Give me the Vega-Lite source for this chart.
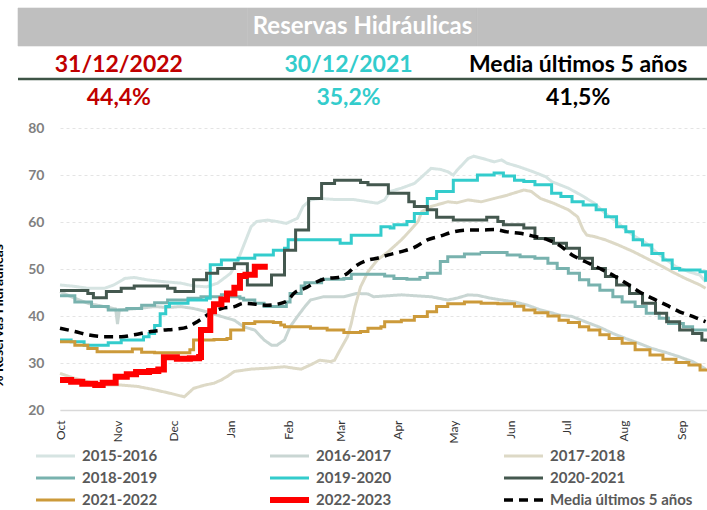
{
  "$schema": "https://vega.github.io/schema/vega-lite/v6.json",
  "width": 647,
  "height": 282,
  "autosize": "none",
  "padding": {"left": 60, "top": 128, "right": 0, "bottom": 100},
  "background": "white",
  "config": {"view": {"stroke": null}, "font": "Lato"},
  "datasets": {
    "header": [
      {"row": "title", "col": "c2", "label": "Reservas Hidráulicas"},
      {"row": "date", "col": "c1", "label": "31/12/2022"},
      {"row": "date", "col": "c2", "label": "30/12/2021"},
      {"row": "date", "col": "c3", "label": "Media últimos 5 años"},
      {"row": "value", "col": "c1", "label": "44,4%"},
      {"row": "value", "col": "c2", "label": "35,2%"},
      {"row": "value", "col": "c3", "label": "41,5%"}
    ],
    "series": [
      {"serie": "2015-2016", "fecha": "2022-10-01", "valor": 46.6},
      {"serie": "2015-2016", "fecha": "2022-10-09", "valor": 46.3},
      {"serie": "2015-2016", "fecha": "2022-10-16", "valor": 45.9},
      {"serie": "2015-2016", "fecha": "2022-10-25", "valor": 45.9},
      {"serie": "2015-2016", "fecha": "2022-10-30", "valor": 46.6},
      {"serie": "2015-2016", "fecha": "2022-11-05", "valor": 48.0},
      {"serie": "2015-2016", "fecha": "2022-11-10", "valor": 48.2},
      {"serie": "2015-2016", "fecha": "2022-11-17", "valor": 47.7},
      {"serie": "2015-2016", "fecha": "2022-11-26", "valor": 47.3},
      {"serie": "2015-2016", "fecha": "2022-12-05", "valor": 47.0},
      {"serie": "2015-2016", "fecha": "2022-12-12", "valor": 46.4},
      {"serie": "2015-2016", "fecha": "2022-12-19", "valor": 46.2},
      {"serie": "2015-2016", "fecha": "2022-12-25", "valor": 47.0},
      {"serie": "2015-2016", "fecha": "2023-01-01", "valor": 49.1},
      {"serie": "2015-2016", "fecha": "2023-01-05", "valor": 52.0},
      {"serie": "2015-2016", "fecha": "2023-01-09", "valor": 56.0},
      {"serie": "2015-2016", "fecha": "2023-01-12", "valor": 59.0},
      {"serie": "2015-2016", "fecha": "2023-01-15", "valor": 60.1},
      {"serie": "2015-2016", "fecha": "2023-01-21", "valor": 60.4},
      {"serie": "2015-2016", "fecha": "2023-01-26", "valor": 60.1},
      {"serie": "2015-2016", "fecha": "2023-01-31", "valor": 59.7},
      {"serie": "2015-2016", "fecha": "2023-02-06", "valor": 60.8},
      {"serie": "2015-2016", "fecha": "2023-02-09", "valor": 63.3},
      {"serie": "2015-2016", "fecha": "2023-02-13", "valor": 64.7},
      {"serie": "2015-2016", "fecha": "2023-02-18", "valor": 65.0},
      {"serie": "2015-2016", "fecha": "2023-02-26", "valor": 64.8},
      {"serie": "2015-2016", "fecha": "2023-03-08", "valor": 64.8},
      {"serie": "2015-2016", "fecha": "2023-03-16", "valor": 64.3},
      {"serie": "2015-2016", "fecha": "2023-03-21", "valor": 64.0},
      {"serie": "2015-2016", "fecha": "2023-03-25", "valor": 64.7},
      {"serie": "2015-2016", "fecha": "2023-03-28", "valor": 66.5},
      {"serie": "2015-2016", "fecha": "2023-04-03", "valor": 67.2},
      {"serie": "2015-2016", "fecha": "2023-04-10", "valor": 68.2},
      {"serie": "2015-2016", "fecha": "2023-04-14", "valor": 69.6},
      {"serie": "2015-2016", "fecha": "2023-04-19", "valor": 71.4},
      {"serie": "2015-2016", "fecha": "2023-04-24", "valor": 71.2},
      {"serie": "2015-2016", "fecha": "2023-04-28", "valor": 70.7},
      {"serie": "2015-2016", "fecha": "2023-05-01", "valor": 70.0},
      {"serie": "2015-2016", "fecha": "2023-05-03", "valor": 71.0},
      {"serie": "2015-2016", "fecha": "2023-05-09", "valor": 73.5},
      {"serie": "2015-2016", "fecha": "2023-05-12", "valor": 74.0},
      {"serie": "2015-2016", "fecha": "2023-05-17", "valor": 73.5},
      {"serie": "2015-2016", "fecha": "2023-05-23", "valor": 72.8},
      {"serie": "2015-2016", "fecha": "2023-05-27", "valor": 73.2},
      {"serie": "2015-2016", "fecha": "2023-05-30", "valor": 72.5},
      {"serie": "2015-2016", "fecha": "2023-06-05", "valor": 71.8},
      {"serie": "2015-2016", "fecha": "2023-06-13", "valor": 70.7},
      {"serie": "2015-2016", "fecha": "2023-06-20", "valor": 69.6},
      {"serie": "2015-2016", "fecha": "2023-06-23", "valor": 68.6},
      {"serie": "2015-2016", "fecha": "2023-07-02", "valor": 67.2},
      {"serie": "2015-2016", "fecha": "2023-07-09", "valor": 65.7},
      {"serie": "2015-2016", "fecha": "2023-07-16", "valor": 64.0},
      {"serie": "2015-2016", "fecha": "2023-07-22", "valor": 61.8},
      {"serie": "2015-2016", "fecha": "2023-07-28", "valor": 60.1},
      {"serie": "2015-2016", "fecha": "2023-08-02", "valor": 58.3},
      {"serie": "2015-2016", "fecha": "2023-08-07", "valor": 56.9},
      {"serie": "2015-2016", "fecha": "2023-08-13", "valor": 55.5},
      {"serie": "2015-2016", "fecha": "2023-08-18", "valor": 53.7},
      {"serie": "2015-2016", "fecha": "2023-08-24", "valor": 51.9},
      {"serie": "2015-2016", "fecha": "2023-08-29", "valor": 50.5},
      {"serie": "2015-2016", "fecha": "2023-09-05", "valor": 49.4},
      {"serie": "2015-2016", "fecha": "2023-09-11", "valor": 48.7},
      {"serie": "2015-2016", "fecha": "2023-09-14", "valor": 47.3},

      {"serie": "2016-2017", "fecha": "2022-10-01", "valor": 45.2},
      {"serie": "2016-2017", "fecha": "2022-10-07", "valor": 44.1},
      {"serie": "2016-2017", "fecha": "2022-10-16", "valor": 42.7},
      {"serie": "2016-2017", "fecha": "2022-10-25", "valor": 42.0},
      {"serie": "2016-2017", "fecha": "2022-10-31", "valor": 41.5},
      {"serie": "2016-2017", "fecha": "2022-11-01", "valor": 38.3},
      {"serie": "2016-2017", "fecha": "2022-11-02", "valor": 41.3},
      {"serie": "2016-2017", "fecha": "2022-11-12", "valor": 41.6},
      {"serie": "2016-2017", "fecha": "2022-11-21", "valor": 42.0},
      {"serie": "2016-2017", "fecha": "2022-11-28", "valor": 41.8},
      {"serie": "2016-2017", "fecha": "2022-12-05", "valor": 42.0},
      {"serie": "2016-2017", "fecha": "2022-12-12", "valor": 41.6},
      {"serie": "2016-2017", "fecha": "2022-12-19", "valor": 40.9},
      {"serie": "2016-2017", "fecha": "2022-12-27", "valor": 39.9},
      {"serie": "2016-2017", "fecha": "2023-01-03", "valor": 39.1},
      {"serie": "2016-2017", "fecha": "2023-01-08", "valor": 37.7},
      {"serie": "2016-2017", "fecha": "2023-01-14", "valor": 37.0},
      {"serie": "2016-2017", "fecha": "2023-01-19", "valor": 34.9},
      {"serie": "2016-2017", "fecha": "2023-01-23", "valor": 33.8},
      {"serie": "2016-2017", "fecha": "2023-01-26", "valor": 33.8},
      {"serie": "2016-2017", "fecha": "2023-01-30", "valor": 34.9},
      {"serie": "2016-2017", "fecha": "2023-02-02", "valor": 37.7},
      {"serie": "2016-2017", "fecha": "2023-02-06", "valor": 39.9},
      {"serie": "2016-2017", "fecha": "2023-02-10", "valor": 42.0},
      {"serie": "2016-2017", "fecha": "2023-02-13", "valor": 43.4},
      {"serie": "2016-2017", "fecha": "2023-02-20", "valor": 44.1},
      {"serie": "2016-2017", "fecha": "2023-03-03", "valor": 44.1},
      {"serie": "2016-2017", "fecha": "2023-03-10", "valor": 44.8},
      {"serie": "2016-2017", "fecha": "2023-03-16", "valor": 44.7},
      {"serie": "2016-2017", "fecha": "2023-03-19", "valor": 44.1},
      {"serie": "2016-2017", "fecha": "2023-04-03", "valor": 44.5},
      {"serie": "2016-2017", "fecha": "2023-04-19", "valor": 44.1},
      {"serie": "2016-2017", "fecha": "2023-04-28", "valor": 43.4},
      {"serie": "2016-2017", "fecha": "2023-05-03", "valor": 43.8},
      {"serie": "2016-2017", "fecha": "2023-05-09", "valor": 44.5},
      {"serie": "2016-2017", "fecha": "2023-05-14", "valor": 44.4},
      {"serie": "2016-2017", "fecha": "2023-05-21", "valor": 43.8},
      {"serie": "2016-2017", "fecha": "2023-05-27", "valor": 43.4},
      {"serie": "2016-2017", "fecha": "2023-06-03", "valor": 43.0},
      {"serie": "2016-2017", "fecha": "2023-06-10", "valor": 42.3},
      {"serie": "2016-2017", "fecha": "2023-06-17", "valor": 41.3},
      {"serie": "2016-2017", "fecha": "2023-06-23", "valor": 40.7},
      {"serie": "2016-2017", "fecha": "2023-06-27", "valor": 40.2},
      {"serie": "2016-2017", "fecha": "2023-07-04", "valor": 39.9},
      {"serie": "2016-2017", "fecha": "2023-07-11", "valor": 38.8},
      {"serie": "2016-2017", "fecha": "2023-07-19", "valor": 37.6},
      {"serie": "2016-2017", "fecha": "2023-07-26", "valor": 36.3},
      {"serie": "2016-2017", "fecha": "2023-08-02", "valor": 35.2},
      {"serie": "2016-2017", "fecha": "2023-08-09", "valor": 34.2},
      {"serie": "2016-2017", "fecha": "2023-08-16", "valor": 33.1},
      {"serie": "2016-2017", "fecha": "2023-08-24", "valor": 32.2},
      {"serie": "2016-2017", "fecha": "2023-08-31", "valor": 31.3},
      {"serie": "2016-2017", "fecha": "2023-09-07", "valor": 30.3},
      {"serie": "2016-2017", "fecha": "2023-09-12", "valor": 29.2},
      {"serie": "2016-2017", "fecha": "2023-09-14", "valor": 28.7},

      {"serie": "2017-2018", "fecha": "2022-10-01", "valor": 27.8},
      {"serie": "2017-2018", "fecha": "2022-10-09", "valor": 26.7},
      {"serie": "2017-2018", "fecha": "2022-10-16", "valor": 26.0},
      {"serie": "2017-2018", "fecha": "2022-10-25", "valor": 25.3},
      {"serie": "2017-2018", "fecha": "2022-11-03", "valor": 25.3},
      {"serie": "2017-2018", "fecha": "2022-11-12", "valor": 25.0},
      {"serie": "2017-2018", "fecha": "2022-11-21", "valor": 24.3},
      {"serie": "2017-2018", "fecha": "2022-11-30", "valor": 23.5},
      {"serie": "2017-2018", "fecha": "2022-12-07", "valor": 22.8},
      {"serie": "2017-2018", "fecha": "2022-12-12", "valor": 24.6},
      {"serie": "2017-2018", "fecha": "2022-12-18", "valor": 25.3},
      {"serie": "2017-2018", "fecha": "2022-12-23", "valor": 25.7},
      {"serie": "2017-2018", "fecha": "2022-12-27", "valor": 26.4},
      {"serie": "2017-2018", "fecha": "2022-12-30", "valor": 27.1},
      {"serie": "2017-2018", "fecha": "2023-01-03", "valor": 28.2},
      {"serie": "2017-2018", "fecha": "2023-01-12", "valor": 28.7},
      {"serie": "2017-2018", "fecha": "2023-01-21", "valor": 28.9},
      {"serie": "2017-2018", "fecha": "2023-01-30", "valor": 29.2},
      {"serie": "2017-2018", "fecha": "2023-02-04", "valor": 28.9},
      {"serie": "2017-2018", "fecha": "2023-02-08", "valor": 28.7},
      {"serie": "2017-2018", "fecha": "2023-02-13", "valor": 29.6},
      {"serie": "2017-2018", "fecha": "2023-02-18", "valor": 30.6},
      {"serie": "2017-2018", "fecha": "2023-02-24", "valor": 30.3},
      {"serie": "2017-2018", "fecha": "2023-02-26", "valor": 30.6},
      {"serie": "2017-2018", "fecha": "2023-03-01", "valor": 32.8},
      {"serie": "2017-2018", "fecha": "2023-03-05", "valor": 35.6},
      {"serie": "2017-2018", "fecha": "2023-03-07", "valor": 38.4},
      {"serie": "2017-2018", "fecha": "2023-03-09", "valor": 42.0},
      {"serie": "2017-2018", "fecha": "2023-03-12", "valor": 46.2},
      {"serie": "2017-2018", "fecha": "2023-03-16", "valor": 49.4},
      {"serie": "2017-2018", "fecha": "2023-03-21", "valor": 51.9},
      {"serie": "2017-2018", "fecha": "2023-03-27", "valor": 53.7},
      {"serie": "2017-2018", "fecha": "2023-04-03", "valor": 56.2},
      {"serie": "2017-2018", "fecha": "2023-04-08", "valor": 58.3},
      {"serie": "2017-2018", "fecha": "2023-04-12", "valor": 60.1},
      {"serie": "2017-2018", "fecha": "2023-04-14", "valor": 62.2},
      {"serie": "2017-2018", "fecha": "2023-04-19", "valor": 63.3},
      {"serie": "2017-2018", "fecha": "2023-04-28", "valor": 64.3},
      {"serie": "2017-2018", "fecha": "2023-05-03", "valor": 64.1},
      {"serie": "2017-2018", "fecha": "2023-05-09", "valor": 64.7},
      {"serie": "2017-2018", "fecha": "2023-05-16", "valor": 64.3},
      {"serie": "2017-2018", "fecha": "2023-05-23", "valor": 65.0},
      {"serie": "2017-2018", "fecha": "2023-05-30", "valor": 65.7},
      {"serie": "2017-2018", "fecha": "2023-06-03", "valor": 66.2},
      {"serie": "2017-2018", "fecha": "2023-06-08", "valor": 66.8},
      {"serie": "2017-2018", "fecha": "2023-06-12", "valor": 66.5},
      {"serie": "2017-2018", "fecha": "2023-06-17", "valor": 65.0},
      {"serie": "2017-2018", "fecha": "2023-06-24", "valor": 64.0},
      {"serie": "2017-2018", "fecha": "2023-07-02", "valor": 62.6},
      {"serie": "2017-2018", "fecha": "2023-07-07", "valor": 61.1},
      {"serie": "2017-2018", "fecha": "2023-07-10", "valor": 58.3},
      {"serie": "2017-2018", "fecha": "2023-07-12", "valor": 57.2},
      {"serie": "2017-2018", "fecha": "2023-07-16", "valor": 56.9},
      {"serie": "2017-2018", "fecha": "2023-07-22", "valor": 56.2},
      {"serie": "2017-2018", "fecha": "2023-07-29", "valor": 55.1},
      {"serie": "2017-2018", "fecha": "2023-08-06", "valor": 53.7},
      {"serie": "2017-2018", "fecha": "2023-08-13", "valor": 52.3},
      {"serie": "2017-2018", "fecha": "2023-08-20", "valor": 50.9},
      {"serie": "2017-2018", "fecha": "2023-08-27", "valor": 49.4},
      {"serie": "2017-2018", "fecha": "2023-09-03", "valor": 48.0},
      {"serie": "2017-2018", "fecha": "2023-09-11", "valor": 46.6},
      {"serie": "2017-2018", "fecha": "2023-09-14", "valor": 45.9},

      {"serie": "2018-2019", "fecha": "2022-10-01", "valor": 44.3},
      {"serie": "2018-2019", "fecha": "2022-10-09", "valor": 43.0},
      {"serie": "2018-2019", "fecha": "2022-10-18", "valor": 42.0},
      {"serie": "2018-2019", "fecha": "2022-10-27", "valor": 41.3},
      {"serie": "2018-2019", "fecha": "2022-11-06", "valor": 41.6},
      {"serie": "2018-2019", "fecha": "2022-11-14", "valor": 42.3},
      {"serie": "2018-2019", "fecha": "2022-11-21", "valor": 42.8},
      {"serie": "2018-2019", "fecha": "2022-11-28", "valor": 43.4},
      {"serie": "2018-2019", "fecha": "2022-12-09", "valor": 43.8},
      {"serie": "2018-2019", "fecha": "2022-12-16", "valor": 44.1},
      {"serie": "2018-2019", "fecha": "2022-12-27", "valor": 44.5},
      {"serie": "2018-2019", "fecha": "2022-12-30", "valor": 44.1},
      {"serie": "2018-2019", "fecha": "2023-01-06", "valor": 43.8},
      {"serie": "2018-2019", "fecha": "2023-01-08", "valor": 43.4},
      {"serie": "2018-2019", "fecha": "2023-01-14", "valor": 42.7},
      {"serie": "2018-2019", "fecha": "2023-01-19", "valor": 42.0},
      {"serie": "2018-2019", "fecha": "2023-01-31", "valor": 43.0},
      {"serie": "2018-2019", "fecha": "2023-02-02", "valor": 44.8},
      {"serie": "2018-2019", "fecha": "2023-02-08", "valor": 46.4},
      {"serie": "2018-2019", "fecha": "2023-02-10", "valor": 47.1},
      {"serie": "2018-2019", "fecha": "2023-02-19", "valor": 47.8},
      {"serie": "2018-2019", "fecha": "2023-03-03", "valor": 48.0},
      {"serie": "2018-2019", "fecha": "2023-03-07", "valor": 48.9},
      {"serie": "2018-2019", "fecha": "2023-03-25", "valor": 48.5},
      {"serie": "2018-2019", "fecha": "2023-03-30", "valor": 48.0},
      {"serie": "2018-2019", "fecha": "2023-04-06", "valor": 47.8},
      {"serie": "2018-2019", "fecha": "2023-04-13", "valor": 48.2},
      {"serie": "2018-2019", "fecha": "2023-04-17", "valor": 49.1},
      {"serie": "2018-2019", "fecha": "2023-04-24", "valor": 51.6},
      {"serie": "2018-2019", "fecha": "2023-04-28", "valor": 52.6},
      {"serie": "2018-2019", "fecha": "2023-05-07", "valor": 53.2},
      {"serie": "2018-2019", "fecha": "2023-05-16", "valor": 53.5},
      {"serie": "2018-2019", "fecha": "2023-05-30", "valor": 53.0},
      {"serie": "2018-2019", "fecha": "2023-06-06", "valor": 52.6},
      {"serie": "2018-2019", "fecha": "2023-06-14", "valor": 52.3},
      {"serie": "2018-2019", "fecha": "2023-06-21", "valor": 51.2},
      {"serie": "2018-2019", "fecha": "2023-06-26", "valor": 50.1},
      {"serie": "2018-2019", "fecha": "2023-07-02", "valor": 49.1},
      {"serie": "2018-2019", "fecha": "2023-07-08", "valor": 47.7},
      {"serie": "2018-2019", "fecha": "2023-07-13", "valor": 46.6},
      {"serie": "2018-2019", "fecha": "2023-07-19", "valor": 45.5},
      {"serie": "2018-2019", "fecha": "2023-07-26", "valor": 44.1},
      {"serie": "2018-2019", "fecha": "2023-07-31", "valor": 43.0},
      {"serie": "2018-2019", "fecha": "2023-08-07", "valor": 42.0},
      {"serie": "2018-2019", "fecha": "2023-08-13", "valor": 40.6},
      {"serie": "2018-2019", "fecha": "2023-08-20", "valor": 39.5},
      {"serie": "2018-2019", "fecha": "2023-08-25", "valor": 38.4},
      {"serie": "2018-2019", "fecha": "2023-09-02", "valor": 37.7},
      {"serie": "2018-2019", "fecha": "2023-09-07", "valor": 37.0},
      {"serie": "2018-2019", "fecha": "2023-09-14", "valor": 36.7},

      {"serie": "2019-2020", "fecha": "2022-10-01", "valor": 34.9},
      {"serie": "2019-2020", "fecha": "2022-10-07", "valor": 34.5},
      {"serie": "2019-2020", "fecha": "2022-10-14", "valor": 33.8},
      {"serie": "2019-2020", "fecha": "2022-10-27", "valor": 34.3},
      {"serie": "2019-2020", "fecha": "2022-11-03", "valor": 34.9},
      {"serie": "2019-2020", "fecha": "2022-11-15", "valor": 35.6},
      {"serie": "2019-2020", "fecha": "2022-11-18", "valor": 36.3},
      {"serie": "2019-2020", "fecha": "2022-11-21", "valor": 38.0},
      {"serie": "2019-2020", "fecha": "2022-11-24", "valor": 40.5},
      {"serie": "2019-2020", "fecha": "2022-11-27", "valor": 42.0},
      {"serie": "2019-2020", "fecha": "2022-11-29", "valor": 42.7},
      {"serie": "2019-2020", "fecha": "2022-12-09", "valor": 43.4},
      {"serie": "2019-2020", "fecha": "2022-12-19", "valor": 43.8},
      {"serie": "2019-2020", "fecha": "2022-12-21", "valor": 50.9},
      {"serie": "2019-2020", "fecha": "2022-12-27", "valor": 51.9},
      {"serie": "2019-2020", "fecha": "2023-01-05", "valor": 52.3},
      {"serie": "2019-2020", "fecha": "2023-01-14", "valor": 53.0},
      {"serie": "2019-2020", "fecha": "2023-01-24", "valor": 54.0},
      {"serie": "2019-2020", "fecha": "2023-01-30", "valor": 54.4},
      {"serie": "2019-2020", "fecha": "2023-02-01", "valor": 56.2},
      {"serie": "2019-2020", "fecha": "2023-03-01", "valor": 55.5},
      {"serie": "2019-2020", "fecha": "2023-03-07", "valor": 57.2},
      {"serie": "2019-2020", "fecha": "2023-03-23", "valor": 59.0},
      {"serie": "2019-2020", "fecha": "2023-03-28", "valor": 58.7},
      {"serie": "2019-2020", "fecha": "2023-03-30", "valor": 59.4},
      {"serie": "2019-2020", "fecha": "2023-04-06", "valor": 60.1},
      {"serie": "2019-2020", "fecha": "2023-04-10", "valor": 61.8},
      {"serie": "2019-2020", "fecha": "2023-04-17", "valor": 65.0},
      {"serie": "2019-2020", "fecha": "2023-04-22", "valor": 66.5},
      {"serie": "2019-2020", "fecha": "2023-05-01", "valor": 68.9},
      {"serie": "2019-2020", "fecha": "2023-05-14", "valor": 70.0},
      {"serie": "2019-2020", "fecha": "2023-05-23", "valor": 70.4},
      {"serie": "2019-2020", "fecha": "2023-05-28", "valor": 69.8},
      {"serie": "2019-2020", "fecha": "2023-06-03", "valor": 68.9},
      {"serie": "2019-2020", "fecha": "2023-06-08", "valor": 68.6},
      {"serie": "2019-2020", "fecha": "2023-06-14", "valor": 67.9},
      {"serie": "2019-2020", "fecha": "2023-06-23", "valor": 66.1},
      {"serie": "2019-2020", "fecha": "2023-06-28", "valor": 65.4},
      {"serie": "2019-2020", "fecha": "2023-07-04", "valor": 64.3},
      {"serie": "2019-2020", "fecha": "2023-07-10", "valor": 63.6},
      {"serie": "2019-2020", "fecha": "2023-07-17", "valor": 62.6},
      {"serie": "2019-2020", "fecha": "2023-07-22", "valor": 61.1},
      {"serie": "2019-2020", "fecha": "2023-07-28", "valor": 59.0},
      {"serie": "2019-2020", "fecha": "2023-08-02", "valor": 57.9},
      {"serie": "2019-2020", "fecha": "2023-08-06", "valor": 56.2},
      {"serie": "2019-2020", "fecha": "2023-08-11", "valor": 55.1},
      {"serie": "2019-2020", "fecha": "2023-08-16", "valor": 53.3},
      {"serie": "2019-2020", "fecha": "2023-08-22", "valor": 51.9},
      {"serie": "2019-2020", "fecha": "2023-08-27", "valor": 50.1},
      {"serie": "2019-2020", "fecha": "2023-08-31", "valor": 49.8},
      {"serie": "2019-2020", "fecha": "2023-09-11", "valor": 49.4},
      {"serie": "2019-2020", "fecha": "2023-09-14", "valor": 47.3},

      {"serie": "2020-2021", "fecha": "2022-10-01", "valor": 45.4},
      {"serie": "2020-2021", "fecha": "2022-10-16", "valor": 44.8},
      {"serie": "2020-2021", "fecha": "2022-10-19", "valor": 43.9},
      {"serie": "2020-2021", "fecha": "2022-10-26", "valor": 45.2},
      {"serie": "2020-2021", "fecha": "2022-11-03", "valor": 45.9},
      {"serie": "2020-2021", "fecha": "2022-11-10", "valor": 46.4},
      {"serie": "2020-2021", "fecha": "2022-11-28", "valor": 45.9},
      {"serie": "2020-2021", "fecha": "2022-12-02", "valor": 45.2},
      {"serie": "2020-2021", "fecha": "2022-12-12", "valor": 47.7},
      {"serie": "2020-2021", "fecha": "2022-12-19", "valor": 49.1},
      {"serie": "2020-2021", "fecha": "2022-12-25", "valor": 50.1},
      {"serie": "2020-2021", "fecha": "2023-01-03", "valor": 51.1},
      {"serie": "2020-2021", "fecha": "2023-01-10", "valor": 46.6},
      {"serie": "2020-2021", "fecha": "2023-01-23", "valor": 48.7},
      {"serie": "2020-2021", "fecha": "2023-01-30", "valor": 54.0},
      {"serie": "2020-2021", "fecha": "2023-02-05", "valor": 58.3},
      {"serie": "2020-2021", "fecha": "2023-02-12", "valor": 65.0},
      {"serie": "2020-2021", "fecha": "2023-02-19", "valor": 68.2},
      {"serie": "2020-2021", "fecha": "2023-02-26", "valor": 68.9},
      {"serie": "2020-2021", "fecha": "2023-03-12", "valor": 68.4},
      {"serie": "2020-2021", "fecha": "2023-03-16", "valor": 67.9},
      {"serie": "2020-2021", "fecha": "2023-03-27", "valor": 66.1},
      {"serie": "2020-2021", "fecha": "2023-04-07", "valor": 64.3},
      {"serie": "2020-2021", "fecha": "2023-04-10", "valor": 63.3},
      {"serie": "2020-2021", "fecha": "2023-04-17", "valor": 62.6},
      {"serie": "2020-2021", "fecha": "2023-04-22", "valor": 61.0},
      {"serie": "2020-2021", "fecha": "2023-05-01", "valor": 60.4},
      {"serie": "2020-2021", "fecha": "2023-05-19", "valor": 61.0},
      {"serie": "2020-2021", "fecha": "2023-05-25", "valor": 60.1},
      {"serie": "2020-2021", "fecha": "2023-05-28", "valor": 59.4},
      {"serie": "2020-2021", "fecha": "2023-06-08", "valor": 58.7},
      {"serie": "2020-2021", "fecha": "2023-06-14", "valor": 56.5},
      {"serie": "2020-2021", "fecha": "2023-06-24", "valor": 55.5},
      {"serie": "2020-2021", "fecha": "2023-07-01", "valor": 54.4},
      {"serie": "2020-2021", "fecha": "2023-07-08", "valor": 52.3},
      {"serie": "2020-2021", "fecha": "2023-07-15", "valor": 50.1},
      {"serie": "2020-2021", "fecha": "2023-07-22", "valor": 48.4},
      {"serie": "2020-2021", "fecha": "2023-07-28", "valor": 46.6},
      {"serie": "2020-2021", "fecha": "2023-08-04", "valor": 44.8},
      {"serie": "2020-2021", "fecha": "2023-08-11", "valor": 42.7},
      {"serie": "2020-2021", "fecha": "2023-08-18", "valor": 40.6},
      {"serie": "2020-2021", "fecha": "2023-08-24", "valor": 38.8},
      {"serie": "2020-2021", "fecha": "2023-08-31", "valor": 37.0},
      {"serie": "2020-2021", "fecha": "2023-09-07", "valor": 36.3},
      {"serie": "2020-2021", "fecha": "2023-09-12", "valor": 34.9},
      {"serie": "2020-2021", "fecha": "2023-09-14", "valor": 34.5},

      {"serie": "2021-2022", "fecha": "2022-10-01", "valor": 34.5},
      {"serie": "2021-2022", "fecha": "2022-10-09", "valor": 33.8},
      {"serie": "2021-2022", "fecha": "2022-10-16", "valor": 33.1},
      {"serie": "2021-2022", "fecha": "2022-10-21", "valor": 32.4},
      {"serie": "2021-2022", "fecha": "2022-11-09", "valor": 33.0},
      {"serie": "2021-2022", "fecha": "2022-11-14", "valor": 32.3},
      {"serie": "2021-2022", "fecha": "2022-11-21", "valor": 32.2},
      {"serie": "2021-2022", "fecha": "2022-12-10", "valor": 32.8},
      {"serie": "2021-2022", "fecha": "2022-12-12", "valor": 34.9},
      {"serie": "2021-2022", "fecha": "2022-12-23", "valor": 35.0},
      {"serie": "2021-2022", "fecha": "2022-12-30", "valor": 35.2},
      {"serie": "2021-2022", "fecha": "2023-01-01", "valor": 37.0},
      {"serie": "2021-2022", "fecha": "2023-01-08", "valor": 38.4},
      {"serie": "2021-2022", "fecha": "2023-01-14", "valor": 38.8},
      {"serie": "2021-2022", "fecha": "2023-01-24", "valor": 38.6},
      {"serie": "2021-2022", "fecha": "2023-01-28", "valor": 38.1},
      {"serie": "2021-2022", "fecha": "2023-01-30", "valor": 37.7},
      {"serie": "2021-2022", "fecha": "2023-02-13", "valor": 37.4},
      {"serie": "2021-2022", "fecha": "2023-02-22", "valor": 37.0},
      {"serie": "2021-2022", "fecha": "2023-03-03", "valor": 36.5},
      {"serie": "2021-2022", "fecha": "2023-03-12", "valor": 36.7},
      {"serie": "2021-2022", "fecha": "2023-03-16", "valor": 37.4},
      {"serie": "2021-2022", "fecha": "2023-03-23", "valor": 37.7},
      {"serie": "2021-2022", "fecha": "2023-03-25", "valor": 38.8},
      {"serie": "2021-2022", "fecha": "2023-04-03", "valor": 39.1},
      {"serie": "2021-2022", "fecha": "2023-04-10", "valor": 39.9},
      {"serie": "2021-2022", "fecha": "2023-04-17", "valor": 40.9},
      {"serie": "2021-2022", "fecha": "2023-04-22", "valor": 42.0},
      {"serie": "2021-2022", "fecha": "2023-04-28", "valor": 42.6},
      {"serie": "2021-2022", "fecha": "2023-05-07", "valor": 43.0},
      {"serie": "2021-2022", "fecha": "2023-05-16", "valor": 42.7},
      {"serie": "2021-2022", "fecha": "2023-05-25", "valor": 42.6},
      {"serie": "2021-2022", "fecha": "2023-06-03", "valor": 42.1},
      {"serie": "2021-2022", "fecha": "2023-06-08", "valor": 41.3},
      {"serie": "2021-2022", "fecha": "2023-06-14", "valor": 40.7},
      {"serie": "2021-2022", "fecha": "2023-06-21", "valor": 40.0},
      {"serie": "2021-2022", "fecha": "2023-06-27", "valor": 39.1},
      {"serie": "2021-2022", "fecha": "2023-07-02", "valor": 38.6},
      {"serie": "2021-2022", "fecha": "2023-07-08", "valor": 37.7},
      {"serie": "2021-2022", "fecha": "2023-07-13", "valor": 37.0},
      {"serie": "2021-2022", "fecha": "2023-07-19", "valor": 36.0},
      {"serie": "2021-2022", "fecha": "2023-07-24", "valor": 35.2},
      {"serie": "2021-2022", "fecha": "2023-07-31", "valor": 34.2},
      {"serie": "2021-2022", "fecha": "2023-08-07", "valor": 32.8},
      {"serie": "2021-2022", "fecha": "2023-08-15", "valor": 31.7},
      {"serie": "2021-2022", "fecha": "2023-08-22", "valor": 30.8},
      {"serie": "2021-2022", "fecha": "2023-08-29", "valor": 30.1},
      {"serie": "2021-2022", "fecha": "2023-09-05", "valor": 29.6},
      {"serie": "2021-2022", "fecha": "2023-09-11", "valor": 28.5},
      {"serie": "2021-2022", "fecha": "2023-09-14", "valor": 28.2},

      {"serie": "2022-2023", "fecha": "2022-10-01", "valor": 26.4},
      {"serie": "2022-2023", "fecha": "2022-10-07", "valor": 26.0},
      {"serie": "2022-2023", "fecha": "2022-10-13", "valor": 25.6},
      {"serie": "2022-2023", "fecha": "2022-10-20", "valor": 25.3},
      {"serie": "2022-2023", "fecha": "2022-10-24", "valor": 25.8},
      {"serie": "2022-2023", "fecha": "2022-10-31", "valor": 27.1},
      {"serie": "2022-2023", "fecha": "2022-11-06", "valor": 27.6},
      {"serie": "2022-2023", "fecha": "2022-11-11", "valor": 28.1},
      {"serie": "2022-2023", "fecha": "2022-11-18", "valor": 28.3},
      {"serie": "2022-2023", "fecha": "2022-11-23", "valor": 28.6},
      {"serie": "2022-2023", "fecha": "2022-11-26", "valor": 31.2},
      {"serie": "2022-2023", "fecha": "2022-12-03", "valor": 30.9},
      {"serie": "2022-2023", "fecha": "2022-12-10", "valor": 31.0},
      {"serie": "2022-2023", "fecha": "2022-12-15", "valor": 31.3},
      {"serie": "2022-2023", "fecha": "2022-12-16", "valor": 37.0},
      {"serie": "2022-2023", "fecha": "2022-12-21", "valor": 41.0},
      {"serie": "2022-2023", "fecha": "2022-12-23", "valor": 42.5},
      {"serie": "2022-2023", "fecha": "2022-12-27", "valor": 43.5},
      {"serie": "2022-2023", "fecha": "2022-12-30", "valor": 44.8},
      {"serie": "2022-2023", "fecha": "2023-01-03", "valor": 46.0},
      {"serie": "2022-2023", "fecha": "2023-01-06", "valor": 48.5},
      {"serie": "2022-2023", "fecha": "2023-01-09", "valor": 48.8},
      {"serie": "2022-2023", "fecha": "2023-01-14", "valor": 50.5},
      {"serie": "2022-2023", "fecha": "2023-01-21", "valor": 50.5},

      {"serie": "Media últimos 5 años", "fecha": "2022-10-01", "valor": 37.4},
      {"serie": "Media últimos 5 años", "fecha": "2022-10-09", "valor": 36.7},
      {"serie": "Media últimos 5 años", "fecha": "2022-10-16", "valor": 36.0},
      {"serie": "Media últimos 5 años", "fecha": "2022-10-25", "valor": 35.6},
      {"serie": "Media últimos 5 años", "fecha": "2022-11-03", "valor": 35.6},
      {"serie": "Media últimos 5 años", "fecha": "2022-11-10", "valor": 36.0},
      {"serie": "Media últimos 5 años", "fecha": "2022-11-19", "valor": 36.7},
      {"serie": "Media últimos 5 años", "fecha": "2022-11-26", "valor": 37.0},
      {"serie": "Media últimos 5 años", "fecha": "2022-12-02", "valor": 37.2},
      {"serie": "Media últimos 5 años", "fecha": "2022-12-09", "valor": 37.7},
      {"serie": "Media últimos 5 años", "fecha": "2022-12-14", "valor": 38.8},
      {"serie": "Media últimos 5 años", "fecha": "2022-12-21", "valor": 40.6},
      {"serie": "Media últimos 5 años", "fecha": "2022-12-27", "valor": 41.6},
      {"serie": "Media últimos 5 años", "fecha": "2023-01-03", "valor": 42.0},
      {"serie": "Media últimos 5 años", "fecha": "2023-01-08", "valor": 42.7},
      {"serie": "Media últimos 5 años", "fecha": "2023-01-21", "valor": 42.3},
      {"serie": "Media últimos 5 años", "fecha": "2023-01-26", "valor": 42.5},
      {"serie": "Media últimos 5 años", "fecha": "2023-02-01", "valor": 43.4},
      {"serie": "Media últimos 5 años", "fecha": "2023-02-04", "valor": 44.8},
      {"serie": "Media últimos 5 años", "fecha": "2023-02-10", "valor": 45.9},
      {"serie": "Media últimos 5 años", "fecha": "2023-02-15", "valor": 47.0},
      {"serie": "Media últimos 5 años", "fecha": "2023-02-22", "valor": 48.0},
      {"serie": "Media últimos 5 años", "fecha": "2023-02-28", "valor": 48.2},
      {"serie": "Media últimos 5 años", "fecha": "2023-03-05", "valor": 49.1},
      {"serie": "Media últimos 5 años", "fecha": "2023-03-09", "valor": 50.5},
      {"serie": "Media últimos 5 años", "fecha": "2023-03-16", "valor": 51.9},
      {"serie": "Media últimos 5 años", "fecha": "2023-03-21", "valor": 52.3},
      {"serie": "Media últimos 5 años", "fecha": "2023-03-27", "valor": 53.0},
      {"serie": "Media últimos 5 años", "fecha": "2023-04-03", "valor": 53.7},
      {"serie": "Media últimos 5 años", "fecha": "2023-04-10", "valor": 54.6},
      {"serie": "Media últimos 5 años", "fecha": "2023-04-17", "valor": 56.2},
      {"serie": "Media últimos 5 años", "fecha": "2023-04-24", "valor": 57.0},
      {"serie": "Media últimos 5 años", "fecha": "2023-05-01", "valor": 57.9},
      {"serie": "Media últimos 5 años", "fecha": "2023-05-09", "valor": 58.3},
      {"serie": "Media últimos 5 años", "fecha": "2023-05-16", "valor": 58.3},
      {"serie": "Media últimos 5 años", "fecha": "2023-05-23", "valor": 58.4},
      {"serie": "Media últimos 5 años", "fecha": "2023-05-30", "valor": 57.9},
      {"serie": "Media últimos 5 años", "fecha": "2023-06-06", "valor": 57.6},
      {"serie": "Media últimos 5 años", "fecha": "2023-06-14", "valor": 56.9},
      {"serie": "Media últimos 5 años", "fecha": "2023-06-21", "valor": 56.2},
      {"serie": "Media últimos 5 años", "fecha": "2023-06-27", "valor": 55.1},
      {"serie": "Media últimos 5 años", "fecha": "2023-07-04", "valor": 53.0},
      {"serie": "Media últimos 5 años", "fecha": "2023-07-11", "valor": 51.6},
      {"serie": "Media últimos 5 años", "fecha": "2023-07-19", "valor": 50.1},
      {"serie": "Media últimos 5 años", "fecha": "2023-07-26", "valor": 48.7},
      {"serie": "Media últimos 5 años", "fecha": "2023-08-02", "valor": 47.0},
      {"serie": "Media últimos 5 años", "fecha": "2023-08-09", "valor": 45.2},
      {"serie": "Media últimos 5 años", "fecha": "2023-08-16", "valor": 43.8},
      {"serie": "Media últimos 5 años", "fecha": "2023-08-24", "valor": 42.3},
      {"serie": "Media últimos 5 años", "fecha": "2023-08-31", "valor": 40.9},
      {"serie": "Media últimos 5 años", "fecha": "2023-09-07", "valor": 39.9},
      {"serie": "Media últimos 5 años", "fecha": "2023-09-14", "valor": 38.8}
    ]
  },
  "layer": [
    {
      "data": {"name": "header"},
      "encoding": {
        "x": {"field": "col", "type": "nominal", "axis": null,
              "scale": {"type": "band", "domain": ["c1", "c2", "c3"], "range": [-42, 647], "paddingInner": 0, "paddingOuter": 0}},
        "y": {"field": "row", "type": "nominal", "axis": null,
              "scale": {"type": "band", "domain": ["title", "date", "value"], "range": [-120, -6], "paddingInner": 0, "paddingOuter": 0}}
      },
      "layer": [
        {
          "transform": [{"filter": "datum.row === 'date'"}],
          "mark": {"type": "rect", "color": "#BFBFBF", "stroke": "#BFBFBF", "strokeWidth": 0.6},
          "encoding": {"y": {"datum": "title", "type": "nominal"}}
        },
        {
          "transform": [{"filter": "datum.row === 'title'"}],
          "mark": {"type": "rule", "color": "#3E5446", "strokeWidth": 2.5, "yOffset": -5},
          "encoding": {
            "x": {"datum": "c1", "type": "nominal", "bandPosition": 0},
            "x2": {"datum": "c3", "bandPosition": 1},
            "y": {"datum": "value", "type": "nominal", "bandPosition": 0}
          }
        },
        {
          "transform": [{"filter": "datum.row === 'title'"}],
          "mark": {"type": "text", "color": "white", "fontSize": 24, "fontWeight": "bold", "font": "Lato", "align": "center", "baseline": "middle"},
          "encoding": {"text": {"field": "label"}}
        },
        {
          "transform": [{"filter": "datum.row === 'date'"}],
          "mark": {"type": "text", "fontSize": 23, "fontWeight": "bold", "font": "Lato", "align": "center", "baseline": "middle", "dx": -14},
          "encoding": {
            "text": {"field": "label"},
            "fill": {"field": "col", "type": "nominal", "legend": null,
                     "scale": {"domain": ["c1", "c2", "c3"], "range": ["#C00000", "#33CCCC", "#000000"]}}
          }
        },
        {
          "transform": [{"filter": "datum.row === 'value'"}],
          "mark": {"type": "text", "fontSize": 23, "fontWeight": "bold", "font": "Lato", "align": "center", "baseline": "middle", "dx": -14, "dy": -5},
          "encoding": {
            "text": {"field": "label"},
            "fill": {"field": "col", "type": "nominal", "legend": null,
                     "scale": {"domain": ["c1", "c2", "c3"], "range": ["#C00000", "#33CCCC", "#000000"]}}
          }
        }
      ]
    },
    {
      "data": {"name": "series"},
      "encoding": {
        "x": {
          "field": "fecha", "type": "temporal",
          "scale": {"type": "utc", "domain": [{"year": 2022, "month": 10, "date": 1, "utc": true}, {"year": 2023, "month": 9, "date": 14, "hours": 18, "utc": true}]},
          "axis": {
            "title": null, "labelExpr": "utcFormat(datum.value, '%b')",
            "values": [
              {"year": 2022, "month": 10, "date": 1, "utc": true},
              {"year": 2022, "month": 11, "date": 1, "utc": true},
              {"year": 2022, "month": 12, "date": 1, "utc": true},
              {"year": 2023, "month": 1, "date": 1, "utc": true},
              {"year": 2023, "month": 2, "date": 1, "utc": true},
              {"year": 2023, "month": 3, "date": 1, "utc": true},
              {"year": 2023, "month": 4, "date": 1, "utc": true},
              {"year": 2023, "month": 5, "date": 1, "utc": true},
              {"year": 2023, "month": 6, "date": 1, "utc": true},
              {"year": 2023, "month": 7, "date": 1, "utc": true},
              {"year": 2023, "month": 8, "date": 1, "utc": true},
              {"year": 2023, "month": 9, "date": 1, "utc": true}
            ],
            "labelAngle": -90, "labelAlign": "right", "labelBaseline": "middle",
            "labelFont": "Lato", "labelFontSize": 12, "labelColor": "#333333", "labelPadding": 10,
            "labelOverlap": false, "labelFlush": false,
            "ticks": false, "grid": false, "domain": true, "domainColor": "#D9D9D9", "domainWidth": 1.5
          }
        },
        "y": {
          "field": "valor", "type": "quantitative",
          "scale": {"domain": [20, 80], "nice": false, "zero": false},
          "axis": {
            "title": "% Reservas Hidráulicas", "values": [20, 30, 40, 50, 60, 70, 80],
            "labelFont": "Lato", "labelFontSize": 14, "labelFontWeight": "bold", "labelColor": "#808080", "labelPadding": 16,
            "domain": false, "ticks": false, "grid": true, "gridColor": "#E4E4E4", "gridDash": [3, 3], "gridWidth": 1,
            "titleFont": "Lato", "titleFontSize": 14, "titleFontWeight": "bold", "titleColor": "#000000",
            "titleAngle": -90, "titleX": -55, "titleY": 187, "titleAlign": "center", "titleBaseline": "bottom"
          }
        },
        "color": {
          "field": "serie", "type": "nominal",
          "scale": {
            "domain": ["2015-2016", "2016-2017", "2017-2018", "2018-2019", "2019-2020", "2020-2021", "2021-2022", "2022-2023", "Media últimos 5 años"],
            "range": ["#D6E4E2", "#C9D6D3", "#DDD9C6", "#78B2AE", "#33CCCC", "#44584F", "#CC9A3A", "#FF0000", "#000000"]
          },
          "legend": {
            "title": null, "orient": "none", "legendX": -27, "legendY": 320, "columns": 3, "direction": "horizontal",
            "symbolType": "stroke", "symbolSize": 1521, "labelFont": "Lato", "labelFontSize": 15,
            "labelFontWeight": "bold", "labelColor": "#595959", "labelOffset": 4, "columnPadding": 109,
            "rowPadding": 6, "clipHeight": 16, "padding": 0, "labelLimit": 0
          }
        },
        "strokeWidth": {
          "field": "serie", "type": "nominal",
          "scale": {
            "type": "ordinal",
            "domain": ["2015-2016", "2016-2017", "2017-2018", "2018-2019", "2019-2020", "2020-2021", "2021-2022", "2022-2023", "Media últimos 5 años"],
            "range": [3, 3, 3, 3, 3, 3, 3, 6, 3.5]
          },
          "legend": {
            "title": null, "orient": "none", "legendX": -27, "legendY": 320, "columns": 3, "direction": "horizontal",
            "symbolType": "stroke", "symbolSize": 1521, "labelFont": "Lato", "labelFontSize": 15,
            "labelFontWeight": "bold", "labelColor": "#595959", "labelOffset": 4, "columnPadding": 109,
            "rowPadding": 6, "clipHeight": 16, "padding": 0, "labelLimit": 0
          }
        },
        "strokeDash": {
          "field": "serie", "type": "nominal",
          "scale": {
            "domain": ["2015-2016", "2016-2017", "2017-2018", "2018-2019", "2019-2020", "2020-2021", "2021-2022", "2022-2023", "Media últimos 5 años"],
            "range": [[1, 0], [1, 0], [1, 0], [1, 0], [1, 0], [1, 0], [1, 0], [1, 0], [9, 6]]
          },
          "legend": {
            "title": null, "orient": "none", "legendX": -27, "legendY": 320, "columns": 3, "direction": "horizontal",
            "symbolType": "stroke", "symbolSize": 1521, "labelFont": "Lato", "labelFontSize": 15,
            "labelFontWeight": "bold", "labelColor": "#595959", "labelOffset": 4, "columnPadding": 109,
            "rowPadding": 6, "clipHeight": 16, "padding": 0, "labelLimit": 0
          }
        }
      },
      "layer": [
        {
          "transform": [{"filter": {"field": "serie", "oneOf": ["2015-2016", "2016-2017", "2017-2018"]}}],
          "mark": {"type": "line", "interpolate": "linear"}
        },
        {
          "transform": [{"filter": {"field": "serie", "oneOf": ["2018-2019", "2019-2020", "2020-2021", "2021-2022"]}}],
          "mark": {"type": "line", "interpolate": "step-after"}
        },
        {
          "transform": [{"filter": {"field": "serie", "equal": "Media últimos 5 años"}}],
          "mark": {"type": "line", "interpolate": "monotone"}
        },
        {
          "transform": [{"filter": {"field": "serie", "equal": "2022-2023"}}],
          "mark": {"type": "line", "interpolate": "step-after"}
        }
      ]
    }
  ],
  "resolve": {"scale": {"x": "independent", "y": "independent"}}
}
